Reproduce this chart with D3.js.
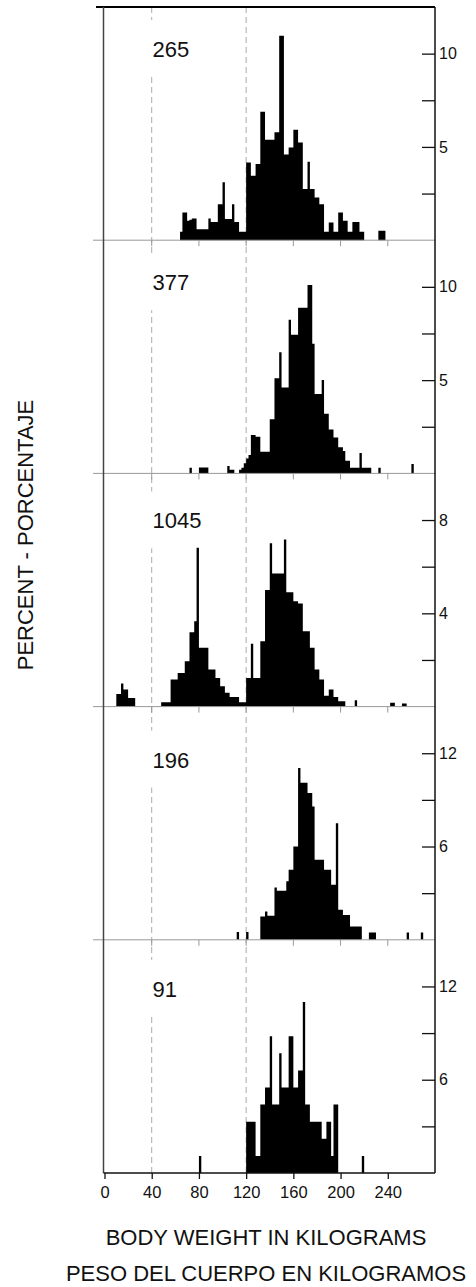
<!DOCTYPE html>
<html>
<head>
<meta charset="utf-8">
<script src="https://cdn.jsdelivr.net/npm/d3@7"></script>
<style>
  body { margin: 0; background: #fff; }
  svg text { font-family: "Liberation Sans", Arial, sans-serif; fill: #111; }
</style>
</head>
<body>
<div id="chart"></div>
<script>
// sample sizes shown in each panel, top to bottom
const counts = [265, 377, 1045, 196, 91];

// each histogram: percent per 2-kg bin, starting at binStarts[i] kg
const binWidth = 2;
const binStarts = [64, 72, 10, 112, 80];

const pct265 = [0.45, 1.49, 1.49, 1.04, 1.1, 1.16, 1.16, 0.59, 0.59, 0.59, 0.59, 0.59, 1.16, 0.98, 0.98, 0.98,
  1.93, 1.93, 3.1, 1.13, 1.13, 1.13, 1.93, 0.98, 0.98, 0.45, 0.45, 0.45, 4.17, 4.17, 3.45, 3.45,
  4.08, 4.08, 6.88, 6.88, 5.38, 5.38, 5.38, 5.38, 5.78, 5.78, 10.96, 10.96, 4.6, 4.6, 4.97, 4.97,
  5.92, 5.92, 5.24, 5.24, 2.74, 2.74, 4.2, 2.74, 2.74, 2.29, 2.29, 1.93, 1.93, 0.45, 0.45, 0.95,
  0.95, 0.45, 0.45, 1.49, 1.49, 1.04, 1.04, 0.45, 0.45, 0.98, 0.98, 0.98, 0.45, 0.45, 0, 0,
  0, 0, 0, 0, 0.5, 0.5, 0.5];

const pct377 = [0.3, 0, 0, 0, 0.32, 0.32, 0.32, 0.32, 0, 0, 0, 0, 0, 0, 0, 0,
  0.39, 0.2, 0.2, 0, 0, 0.2, 0.3, 0.54, 0.8, 0.98, 2.06, 2.06, 1.97, 1.97, 1.16, 1.16,
  1.16, 1.16, 2.9, 2.9, 5.1, 5.1, 6.5, 4.6, 4.6, 4.6, 8.23, 7.43, 7.43, 7.43, 8.88, 8.88,
  8.88, 8.88, 10.1, 10.1, 6.95, 4.25, 4.25, 4.25, 5.0, 3.2, 3.2, 2.35, 2.35, 1.93, 1.93, 1.4,
  1.4, 1.2, 0.68, 0.68, 0.3, 0.3, 0.3, 0.3, 1.1, 0.3, 0.3, 0.3, 0.3, 0, 0, 0,
  0.3, 0, 0, 0, 0, 0, 0, 0, 0, 0, 0, 0, 0, 0, 0.5];

const pct1045 = [0.54, 0.54, 0.99, 0.73, 0.73, 0.37, 0.37, 0.37, 0, 0, 0, 0, 0, 0, 0, 0,
  0, 0, 0, 0.19, 0.19, 0.19, 0.19, 1.16, 1.16, 1.16, 1.44, 1.44, 1.44, 1.95, 1.95, 3.19,
  3.19, 3.66, 6.81, 2.52, 2.52, 2.52, 2.52, 1.59, 1.59, 1.59, 1.23, 1.23, 0.87, 0.87, 0.59, 0.59,
  0.41, 0.41, 0.41, 0.41, 0.19, 0.19, 0.19, 1.23, 1.23, 2.7, 1.23, 1.23, 1.23, 2.8, 2.8, 5.0,
  5.0, 7.0, 5.71, 5.71, 5.71, 5.71, 5.71, 7.17, 4.9, 4.9, 4.9, 4.52, 4.52, 4.42, 4.42, 3.23,
  3.23, 3.23, 2.52, 2.52, 1.59, 1.59, 1.16, 1.16, 0.46, 0.46, 0.73, 0.73, 0.41, 0.41, 0.23, 0.23,
  0.23, 0, 0, 0, 0, 0.27, 0, 0, 0, 0, 0, 0, 0, 0, 0, 0,
  0, 0, 0, 0, 0.16, 0.16, 0, 0, 0, 0.13, 0.13];

const pct196 = [0.5, 0, 0, 0, 0.5, 0, 0, 0, 0, 0, 1.5, 1.5, 1.82, 1.55, 1.55, 1.55,
  3.37, 3.15, 3.15, 3.15, 3.15, 3.76, 4.5, 4.5, 6.0, 6.0, 11.05, 10.1, 10.1, 10.1, 9.44, 9.44,
  8.58, 5.15, 5.15, 5.15, 5.15, 4.5, 4.5, 4.5, 3.54, 3.54, 7.5, 1.93, 1.93, 1.6, 1.6, 1.6,
  0.86, 0.86, 0.86, 0.86, 0.86, 0, 0, 0, 0.47, 0.47, 0.47, 0, 0, 0, 0, 0,
  0, 0, 0, 0, 0, 0, 0, 0, 0.47, 0, 0, 0, 0, 0, 0.47];

const pct91 = [1.1, 0, 0, 0, 0, 0, 0, 0, 0, 0, 0, 0, 0, 0, 0, 0,
  0, 0, 0, 0, 3.3, 3.3, 3.3, 3.3, 1.1, 1.1, 4.4, 4.4, 5.5, 5.5, 8.8, 4.4,
  4.4, 4.4, 7.7, 5.5, 5.5, 5.5, 8.8, 8.8, 5.5, 5.5, 6.6, 6.6, 11, 4.4, 4.4, 3.3,
  3.3, 3.3, 3.3, 3.3, 2.2, 2.2, 3.3, 3.3, 1.1, 4.4, 4.4, 0, 0, 0, 0, 0,
  0, 0, 0, 0, 0, 1.1];

const series = [pct265, pct377, pct1045, pct196, pct91];

// right-hand percent axis of each panel
const yMax = [12.5, 12.5, 10, 15, 15];
const yStep = [2.5, 2.5, 2, 3, 3];
const yLabels = [[5, 10], [5, 10], [4, 8], [6, 12], [6, 12]];

const xTicks = [0, 40, 80, 120, 160, 200, 240];
const refLines = [40, 120];

const xTitle1 = "BODY WEIGHT IN KILOGRAMS";
const xTitle2 = "PESO DEL CUERPO EN KILOGRAMOS";
const yTitle = "PERCENT - PORCENTAJE";

// layout
const W = 476, H = 1287;
const top0 = 7, panelH = 233.2;
const leftX = 103.5, rightX = 435;
const labelDy = [50, 50, 55, 61, 57];
const bottomY = top0 + panelH * counts.length;

const svg = d3.select("#chart").append("svg")
    .attr("width", W)
    .attr("height", H);

const x = d3.scaleLinear().domain([0, 280]).range([104.5, rightX]);

// dashed reference lines at 40 and 120 kg, running through all panels
svg.append("g").selectAll("line")
    .data(refLines)
    .enter().append("line")
    .attr("x1", d => x(d)).attr("x2", d => x(d))
    .attr("y1", top0).attr("y2", bottomY)
    .attr("stroke", "#aaa")
    .attr("stroke-width", 1)
    .attr("stroke-dasharray", "6,4");

counts.forEach((n, i) => {
    const top = top0 + i * panelH;
    const bottom = top + panelH;
    const y = d3.scaleLinear().domain([0, yMax[i]]).range([bottom, top]);
    const g = svg.append("g");

    // blank out the dashed line behind the sample size
    const ly = top + labelDy[i];
    g.append("rect")
        .attr("x", x(40) - 5).attr("width", 10)
        .attr("y", ly - 37).attr("height", 57)
        .attr("fill", "#fff");

    // histogram as one stepped area so neighbouring bins have no seams
    const bins = series[i].map((v, j) => ({ kg: binStarts[i] + j * binWidth, v: v }));
    bins.push({ kg: binStarts[i] + series[i].length * binWidth, v: 0 });

    const area = d3.area()
        .curve(d3.curveStepAfter)
        .x(d => x(d.kg))
        .y0(bottom)
        .y1(d => y(d.v));

    g.append("path")
        .datum(bins)
        .attr("d", area)
        .attr("fill", "#000");

    g.append("text")
        .attr("x", 152.5)
        .attr("y", ly)
        .attr("font-size", 22)
        .text(n);

    // right percent axis, ticks pointing inward
    const ticks = d3.range(yStep[i], yMax[i] + 0.001, yStep[i]).filter(t => t < yMax[i] - 0.01);
    const ax = g.append("g")
        .attr("transform", `translate(${rightX},0)`)
        .call(d3.axisRight(y)
            .tickValues(ticks)
            .tickSize(-13)
            .tickPadding(4)
            .tickFormat(d => yLabels[i].includes(d) ? d : ""));
    ax.select(".domain").remove();
    ax.selectAll(".tick line").attr("stroke", "#111").attr("stroke-width", 1.3);
    ax.selectAll("text").attr("font-size", 16).attr("font-family", "Liberation Sans, Arial, sans-serif").attr("fill", "#111");

    if (i < counts.length - 1) {
        g.append("line")
            .attr("x1", 93).attr("x2", rightX)
            .attr("y1", bottom).attr("y2", bottom)
            .attr("stroke", "#999").attr("stroke-width", 1);
        g.selectAll("line.sub")
            .data(xTicks.slice(1))
            .enter().append("line")
            .attr("class", "sub")
            .attr("x1", d => x(d)).attr("x2", d => x(d))
            .attr("y1", bottom).attr("y2", bottom + 6)
            .attr("stroke", "#999");
    }
});

// frame
svg.append("line")
    .attr("x1", 96).attr("x2", rightX)
    .attr("y1", top0).attr("y2", top0)
    .attr("stroke", "#000").attr("stroke-width", 2);
svg.append("line")
    .attr("x1", leftX).attr("x2", leftX)
    .attr("y1", top0).attr("y2", bottomY)
    .attr("stroke", "#444").attr("stroke-width", 1.5);
svg.append("line")
    .attr("x1", rightX).attr("x2", rightX)
    .attr("y1", top0).attr("y2", bottomY)
    .attr("stroke", "#111").attr("stroke-width", 1.5);

// bottom axis
const xAxis = svg.append("g")
    .attr("transform", `translate(0,${bottomY})`)
    .call(d3.axisBottom(x).tickValues(xTicks).tickSize(6).tickPadding(7));
xAxis.select(".domain").remove();
xAxis.selectAll(".tick line").attr("stroke", "#111").attr("stroke-width", 1.3);
xAxis.selectAll("text").attr("font-size", 16.5).attr("font-family", "Liberation Sans, Arial, sans-serif").attr("fill", "#111");
svg.append("line")
    .attr("x1", leftX).attr("x2", rightX)
    .attr("y1", bottomY).attr("y2", bottomY)
    .attr("stroke", "#111").attr("stroke-width", 1.5);

// titles
svg.append("text")
    .attr("x", 266).attr("y", 1245)
    .attr("text-anchor", "middle")
    .attr("font-size", 22)
    .text(xTitle1);
svg.append("text")
    .attr("x", 266).attr("y", 1281)
    .attr("text-anchor", "middle")
    .attr("font-size", 22)
    .text(xTitle2);
svg.append("text")
    .attr("transform", "translate(33,535) rotate(-90)")
    .attr("text-anchor", "middle")
    .attr("font-size", 22)
    .text(yTitle);
</script>
</body>
</html>
